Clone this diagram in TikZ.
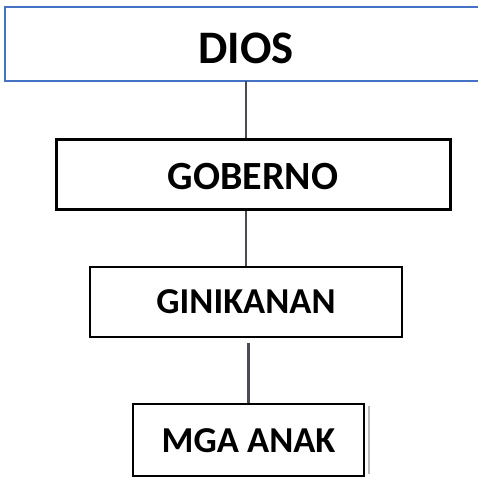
\documentclass[tikz,border=0pt]{standalone}
\usepackage{fontspec}
\setmainfont{Carlito}
\definecolor{azul}{RGB}{68,114,196}
\definecolor{gris}{RGB}{75,75,85}
\begin{document}
\begin{tikzpicture}[x=1pt,y=-1pt,
        caja/.style={draw, rectangle, inner sep=0pt, text depth=0pt},
        conector/.style={draw=gris, line width=2.2pt}]
        % Marco de la figura
        \useasboundingbox (0,0) rectangle (478,477);
        \clip (0,0) rectangle (478,477);

        % Caja de DIOS (sale por la derecha, sin lado derecho)
        \node[caja, draw=none, minimum width=482pt, minimum height=74pt,
              text height=38pt, font=\bfseries\fontsize{46.6}{50}\selectfont] (dios) at (246,44) {DIOS};
        \draw[azul, line width=2.2pt] ([xshift=20pt]dios.north east) -- (dios.north west)
              -- (dios.south west) -- ([xshift=20pt]dios.south east);

        % Caja de GOBERNO
        \node[caja, line width=3pt, minimum width=394pt, minimum height=70pt,
              text height=30pt, font=\bfseries\fontsize{40}{44}\selectfont] (gobierno) at (253,174) {GOBERNO};

        % Caja de GINIKANAN
        \node[caja, line width=1.7pt, minimum width=312pt, minimum height=70pt,
              text height=23pt, font=\bfseries\fontsize{36.5}{40}\selectfont] (padres) at (246,302) {GINIKANAN};

        % Caja de MGA ANAK
        \node[caja, line width=2.4pt, minimum width=231pt, minimum height=72pt,
              text height=25pt, font=\bfseries\fontsize{36.5}{40}\selectfont] (hijos) at (248.5,440) {MGA ANAK};
        % sombra del lado derecho
        \draw[gray!55, line width=1.8pt] ([xshift=3.5pt,yshift=-3pt]hijos.north east) -- ([xshift=3.5pt,yshift=3pt]hijos.south east);

        % Conectores
        \draw[conector] (dios.south) -- (dios.south |- gobierno.north);
        \draw[conector] (padres.north |- gobierno.south) -- (padres.north);
        \draw[conector] ([yshift=-5pt]padres.south -| hijos.north) -- (hijos.north);
    \end{tikzpicture}
\end{document}
